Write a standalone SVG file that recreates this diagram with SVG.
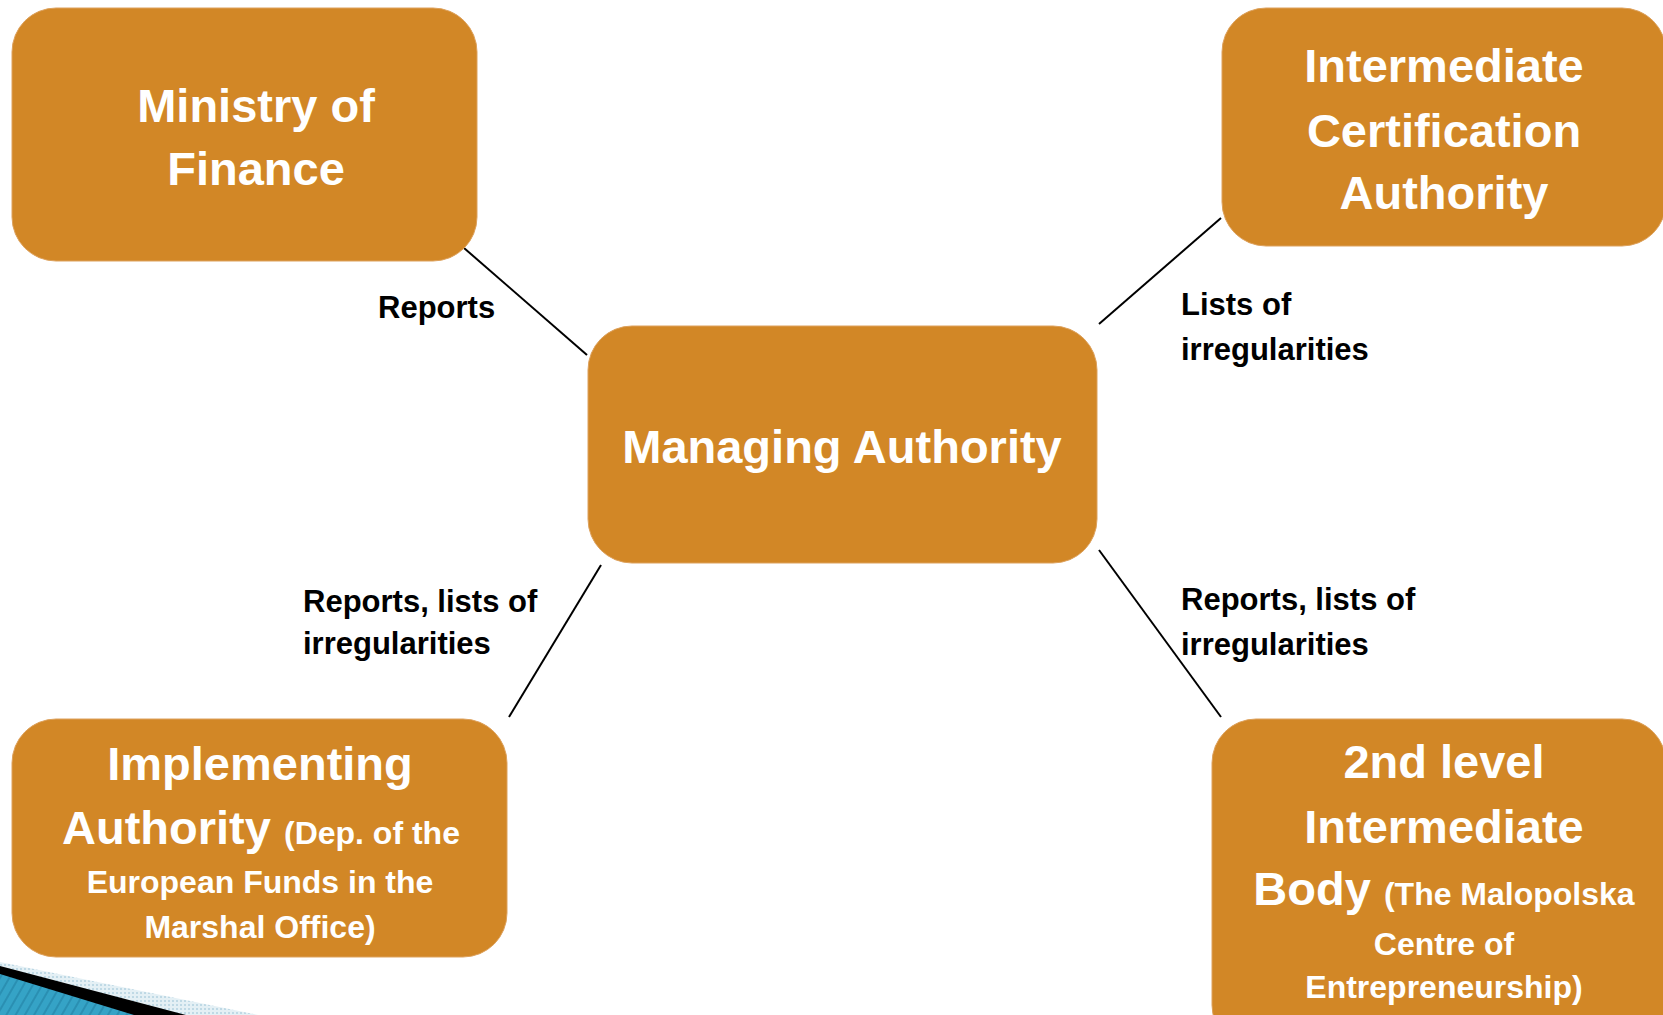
<svg xmlns="http://www.w3.org/2000/svg" width="1663" height="1015" viewBox="0 0 1663 1015">
  <style>
    .box { fill: #D28726; stroke: #DDA15C; stroke-width: 1; }
    .big { font-family: "Liberation Sans", Arial, sans-serif; font-weight: bold; font-size: 47px; fill: #FFFFFF; text-anchor: middle; }
    .small { font-size: 32px; }
    .lbl { font-family: "Liberation Sans", Arial, sans-serif; font-weight: bold; font-size: 31px; fill: #000000; }
    .edge { stroke: #000000; stroke-width: 2; fill: none; }
  </style>
  <defs>
    <pattern id="stripes" width="8" height="8" patternUnits="userSpaceOnUse" patternTransform="rotate(30)">
      <rect width="8" height="8" fill="#35A3C6"/>
      <rect width="2" height="8" fill="#2A8FB2"/>
    </pattern>
    <pattern id="mesh" width="4" height="4" patternUnits="userSpaceOnUse">
      <rect width="4" height="4" fill="#E4F0F5"/>
      <rect width="2" height="2" fill="#BFD9E5"/>
    </pattern>
  </defs>
  <rect width="1663" height="1015" fill="#FFFFFF"/>

  <!-- corner ornament -->
  <g id="corner-ornament">
    <polygon points="0,962 258,1015 0,1015" fill="url(#mesh)"/>
    <polygon points="0,966 186,1015 0,1015" fill="#000000"/>
    <polygon points="0,974 134,1015 0,1015" fill="url(#stripes)"/>
  </g>

  <!-- connectors -->
  <g id="connectors">
    <line class="edge" x1="464" y1="248" x2="587" y2="355"/>
    <line class="edge" x1="1221" y1="218" x2="1099" y2="324"/>
    <line class="edge" x1="601" y1="565" x2="509" y2="717"/>
    <line class="edge" x1="1099" y1="550" x2="1221" y2="717"/>
  </g>

  <!-- connector labels -->
  <g id="labels">
    <text class="lbl" x="378" y="318">Reports</text>
    <text class="lbl" x="1181" y="315">Lists of</text>
    <text class="lbl" x="1181" y="360">irregularities</text>
    <text class="lbl" x="303" y="612">Reports, lists of</text>
    <text class="lbl" x="303" y="654">irregularities</text>
    <text class="lbl" x="1181" y="610">Reports, lists of</text>
    <text class="lbl" x="1181" y="655">irregularities</text>
  </g>

  <g id="ministry-of-finance">
    <rect class="box" x="12" y="8" width="465" height="253" rx="44" ry="44"/>
    <text class="big" x="256" y="122">Ministry of</text>
    <text class="big" x="256" y="185">Finance</text>
  </g>

  <g id="intermediate-certification-authority">
    <rect class="box" x="1222" y="8" width="444" height="238" rx="44" ry="44"/>
    <text class="big" x="1444" y="82">Intermediate</text>
    <text class="big" x="1444" y="147">Certification</text>
    <text class="big" x="1444" y="209">Authority</text>
  </g>

  <g id="managing-authority">
    <rect class="box" x="588" y="326" width="509" height="237" rx="44" ry="44"/>
    <text class="big" x="842" y="463">Managing Authority</text>
  </g>

  <g id="implementing-authority">
    <rect class="box" x="12" y="719" width="495" height="238" rx="44" ry="44"/>
    <text class="big" x="260" y="780">Implementing</text>
    <text class="big" x="261" y="844">Authority <tspan class="small">(Dep. of the</tspan></text>
    <text class="big small" x="260" y="893">European Funds in the</text>
    <text class="big small" x="260" y="938">Marshal Office)</text>
  </g>

  <g id="second-level-intermediate-body">
    <rect class="box" x="1212" y="719" width="454" height="330" rx="44" ry="44"/>
    <text class="big" x="1444" y="778">2nd level</text>
    <text class="big" x="1444" y="843">Intermediate</text>
    <text class="big" x="1444" y="905">Body <tspan class="small">(The Malopolska</tspan></text>
    <text class="big small" x="1444" y="955">Centre of</text>
    <text class="big small" x="1444" y="998">Entrepreneurship)</text>
  </g>
</svg>
